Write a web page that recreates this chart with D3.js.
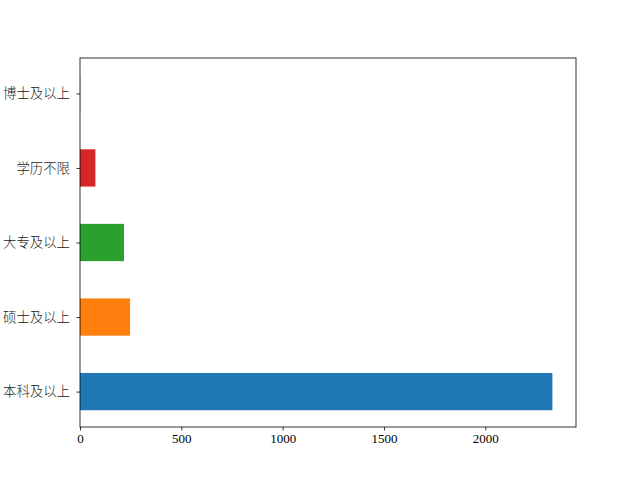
<!DOCTYPE html>
<html><head><meta charset="utf-8">
<script src="https://cdn.jsdelivr.net/npm/d3@7"></script>
<style>body{margin:0;background:#fff}</style>
</head><body>
<script>
const categories = ["本科及以上","硕士及以上","大专及以上","学历不限","博士及以上"];
const values = [2331, 247, 217, 76, 1];
const colors = ["#1f77b4","#ff7f0e","#2ca02c","#d62728","#9467bd"];
const xTicks = [0,500,1000,1500,2000];

const W=640,H=480, L=80, T=58, R=576, B=427;
const svg=d3.select("body").append("svg").attr("width",W).attr("height",H);
const x=d3.scaleLinear().domain([0,d3.max(values)*1.05]).range([L,R]);
const y=d3.scaleLinear().domain([-0.475,categories.length-1+0.475]).range([B,T]);
const bh=0.5;
svg.selectAll("rect.bar").data(values).enter().append("rect").attr("class","bar")
  .attr("x",x(0)).attr("y",(d,i)=>y(i+bh/2)).attr("width",d=>x(d)-x(0))
  .attr("height",(d,i)=>y(i-bh/2)-y(i+bh/2)).attr("fill",(d,i)=>colors[i]);

const xa=svg.append("g").attr("transform",`translate(0,${B})`)
  .call(d3.axisBottom(x).tickValues(xTicks).tickSize(3.5).tickPadding(3.5).tickFormat(d3.format("d")));
xa.select(".domain").remove();
xa.selectAll("text").attr("font-family","Liberation Serif, DejaVu Serif, serif").attr("font-size","13px").attr("fill","#000");
xa.selectAll("line").attr("stroke","#000").attr("stroke-width",0.8);

const ya=svg.append("g").attr("transform",`translate(${L},0)`)
  .call(d3.axisLeft(y).tickValues(d3.range(categories.length)).tickSize(3.5).tickPadding(6.5).tickFormat(i=>categories[i]));
ya.select(".domain").remove();
ya.selectAll("text").attr("font-family","Noto Sans CJK SC, sans-serif").attr("font-weight",300).attr("font-size","13.4px").attr("fill","#222");
ya.selectAll("line").attr("stroke","#000").attr("stroke-width",0.8);

svg.append("rect").attr("x",L).attr("y",T).attr("width",R-L).attr("height",B-T)
  .attr("fill","none").attr("stroke","#000").attr("stroke-width",0.8);
</script>
</body></html>
